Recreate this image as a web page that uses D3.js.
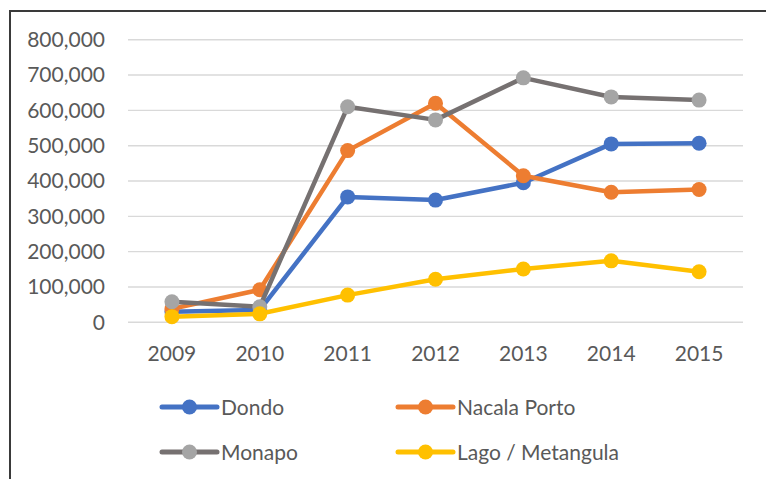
<!DOCTYPE html>
<html>
<head>
<meta charset="utf-8">
<script src="https://cdn.jsdelivr.net/npm/d3@7"></script>
<style>
  body { margin: 0; background: #fff; }
  text { font-family: Lato, "Open Sans", sans-serif; fill: #595959; }
</style>
</head>
<body>
<svg width="766" height="479"></svg>
<script>
// chart data
var years = ["2009", "2010", "2011", "2012", "2013", "2014", "2015"];
var seriesNames = ["Dondo", "Nacala Porto", "Monapo", "Lago / Metangula"];
var dondo = [30000, 35000, 355000, 346000, 395000, 505000, 507000];
var nacalaPorto = [38000, 92000, 486000, 620000, 415000, 368000, 376000];
var monapo = [58000, 44000, 610000, 573000, 692000, 638000, 629000];
var lagoMetangula = [16000, 24000, 77000, 122000, 151000, 174000, 143000];
var yTicks = [0, 100000, 200000, 300000, 400000, 500000, 600000, 700000, 800000];

var lineColors = ["#4472C4", "#ED7D31", "#767171", "#FFC000"];
var markerColors = ["#4472C4", "#ED7D31", "#A5A5A5", "#FFC000"];

var svg = d3.select("svg");

// outer frame (right / bottom edges fall outside the picture)
svg.append("rect").attr("x", 10).attr("y", 11).attr("width", 820).attr("height", 520)
  .style("fill", "none").style("stroke", "#3a3a3a").style("stroke-width", 2);

var x = d3.scaleBand().domain(years).range([128, 743]);
var y = d3.scaleLinear().domain([0, 800000]).range([322.3, 39.7]);
function cx(d) { return x(d) + x.bandwidth() / 2; }

// gridlines
svg.append("g").selectAll("line").data(yTicks).enter().append("line")
  .attr("x1", 128).attr("x2", 743)
  .attr("y1", function(d) { return y(d); }).attr("y2", function(d) { return y(d); })
  .style("stroke", "#D9D9D9").style("stroke-width", 1.4);

var yAxis = svg.append("g").attr("transform", "translate(128,0)")
  .call(d3.axisLeft(y).tickValues(yTicks).tickFormat(d3.format(",")).tickSize(0).tickPadding(23));
yAxis.select(".domain").remove();
yAxis.selectAll("text").style("font-size", "21px").style("fill", "#595959").style("font-family", "Lato, sans-serif");

var xAxis = svg.append("g").attr("transform", "translate(0,322.3)")
  .call(d3.axisBottom(x).tickSize(0).tickPadding(24));
xAxis.select(".domain").remove();
xAxis.selectAll("text").style("font-size", "21px").style("fill", "#595959").style("font-family", "Lato, sans-serif");

var allSeries = [dondo, nacalaPorto, monapo, lagoMetangula];

var line = d3.line()
  .x(function(d, i) { return cx(years[i]); })
  .y(function(d) { return y(d); });

allSeries.forEach(function(vals, s) {
  var g = svg.append("g");
  g.append("path").datum(vals).attr("d", line)
    .style("fill", "none").style("stroke", lineColors[s]).style("stroke-width", 4.5)
    .style("stroke-linejoin", "round").style("stroke-linecap", "round");
  g.selectAll("circle").data(vals).enter().append("circle")
    .attr("cx", function(d, i) { return cx(years[i]); })
    .attr("cy", function(d) { return y(d); })
    .attr("r", 7.5)
    .style("fill", markerColors[s]);
});

// legend
var legX = [162, 398], legY = [407, 452];
seriesNames.forEach(function(name, s) {
  var lx = legX[s % 2], ly = legY[Math.floor(s / 2)];
  var g = svg.append("g").attr("transform", "translate(" + lx + "," + ly + ")");
  g.append("line").attr("x1", 0).attr("x2", 55).attr("y1", 0).attr("y2", 0)
    .style("stroke", lineColors[s]).style("stroke-width", 5).style("stroke-linecap", "round");
  g.append("circle").attr("cx", 27.5).attr("cy", 0).attr("r", 7.5).style("fill", markerColors[s]);
  g.append("text").attr("x", 59).attr("y", 0).attr("dy", "0.36em")
    .style("font-size", "21px").text(name);
});
</script>
</body>
</html>
